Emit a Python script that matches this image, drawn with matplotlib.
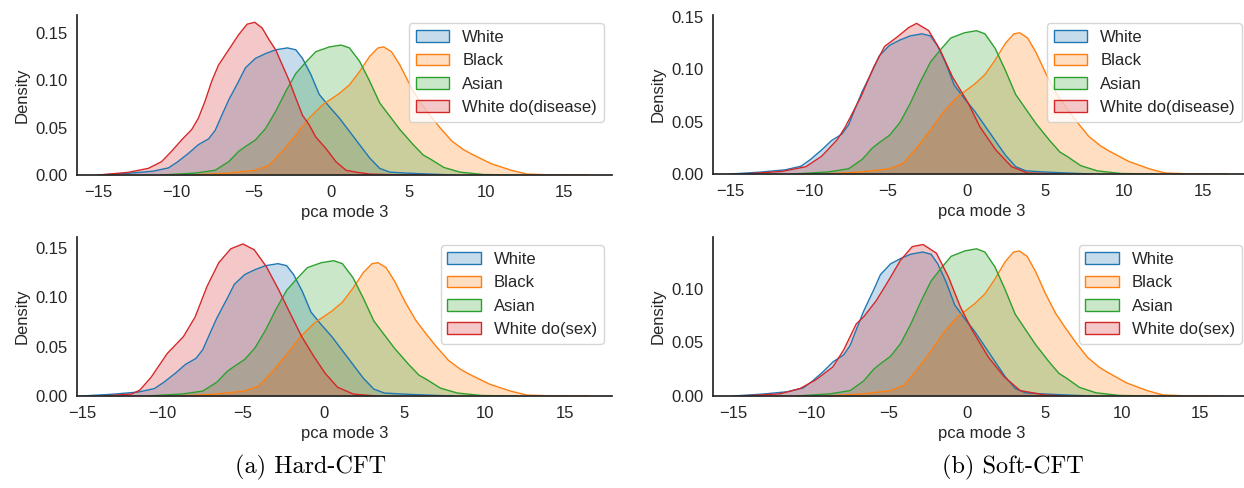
import matplotlib
matplotlib.use("Agg")
import matplotlib.pyplot as plt
from matplotlib.colors import to_rgba
from matplotlib.patches import Patch

# ---- data (x = pca mode 3, y = density) ----
white_x = [-15, -13.1, -11.5, -10.5, -9.9, -9.2, -8.57, -7.92, -7.49, -7.06, -6.62, -5.97, -5.54,
           -4.89, -4.24, -3.59, -2.83, -2.29, -1.86, -1.32, -0.78, -0.13, 0.52, 1.17, 1.82, 2.47,
           3.12, 3.77, 4.85, 6.3, 8.0]
white_y = [0, 0.0018, 0.004, 0.0075, 0.014, 0.023, 0.032, 0.038, 0.047, 0.063, 0.079, 0.099, 0.113,
           0.123, 0.128, 0.132, 0.134, 0.132, 0.123, 0.106, 0.085, 0.072, 0.060, 0.046, 0.032, 0.018,
           0.007, 0.003, 0.002, 0.001, 0]

black_x = [-9, -6.62, -4.89, -4.03, -3.16, -2.29, -1.43, -0.56, 0.52, 1.17, 1.82, 2.47, 3.01, 3.38,
           3.88, 4.42, 5.07, 5.71, 6.36, 7.0, 7.76, 8.5, 9.05, 10.3, 11.6, 12.6, 14, 16.5]
black_y = [0, 0.002, 0.005, 0.010, 0.025, 0.042, 0.060, 0.074, 0.086, 0.095, 0.109, 0.125, 0.134, 0.135,
           0.130, 0.116, 0.095, 0.077, 0.063, 0.050, 0.036, 0.027, 0.022, 0.012, 0.005, 0.001, 0.0002, 0]

asian_x = [-11, -8.78, -7.49, -6.62, -5.97, -5.54, -4.89, -4.24, -3.59, -2.94, -2.29, -1.64, -1.0,
           -0.13, 0.63, 1.17, 1.82, 2.47, 3.12, 3.77, 4.42, 5.28, 5.93, 6.37, 7.25, 8.3, 9.8, 12]
asian_y = [0, 0.002, 0.005, 0.014, 0.025, 0.030, 0.037, 0.049, 0.067, 0.088, 0.107, 0.119, 0.130,
           0.135, 0.137, 0.134, 0.120, 0.099, 0.076, 0.062, 0.048, 0.032, 0.021, 0.017, 0.008, 0.003, 0.0005, 0]

# counterfactual "White do(...)" curves, one per panel
hard_disease_x = [-15, -13.1, -11.8, -10.95, -10.3, -9.65, -9.0, -8.57, -8.14, -7.71, -7.27, -6.62,
                  -5.97, -5.43, -4.94, -4.46, -4.03, -3.59, -3.16, -2.73, -2.29, -1.86, -1.43, -1.0,
                  -0.35, 0.30, 0.95, 1.6, 2.47, 4, 6]
hard_disease_y = [0, 0.0028, 0.007, 0.014, 0.025, 0.037, 0.048, 0.060, 0.078, 0.099, 0.116, 0.132,
                  0.148, 0.159, 0.161, 0.155, 0.143, 0.132, 0.116, 0.100, 0.081, 0.063, 0.053, 0.040,
                  0.028, 0.014, 0.005, 0.003, 0.001, 0.0003, 0]

soft_disease_x = [-14.2, -11.7, -10.2, -9.2, -8.2, -7.7, -6.7, -5.9, -5.2, -4.4, -3.67, -3.17, -2.4,
                  -1.66, -0.9, 0.1, 0.85, 1.86, 2.86, 3.87, 6]
soft_disease_y = [0, 0.0025, 0.007, 0.017, 0.033, 0.045, 0.074, 0.102, 0.122, 0.131, 0.140, 0.144, 0.137,
                  0.118, 0.093, 0.068, 0.045, 0.023, 0.007, 0.001, 0]

hard_sex_x = [-13.7, -11.9, -11.4, -10.7, -9.7, -8.7, -7.97, -7.23, -6.5, -5.76, -5.0, -4.3, -3.55,
              -2.8, -2.08, -1.35, -0.6, 0.1, 0.86, 1.84, 3.3]
hard_sex_y = [0, 0.002, 0.006, 0.019, 0.043, 0.060, 0.080, 0.111, 0.135, 0.149, 0.154, 0.148, 0.131,
              0.108, 0.084, 0.060, 0.040, 0.023, 0.009, 0.002, 0]

soft_sex_x = [-14.5, -12, -10.7, -9.7, -8.6, -7.9, -7.1, -6.6, -5.8, -5.0, -4.27, -3.5, -2.8,
              -1.95, -1.18, -0.41, 0.36, 1.4, 2.4, 3.44, 5.0, 6.5]
soft_sex_y = [0, 0.002, 0.007, 0.015, 0.027, 0.043, 0.067, 0.074, 0.089, 0.108, 0.126, 0.139, 0.141,
              0.133, 0.111, 0.083, 0.061, 0.036, 0.018, 0.005, 0.001, 0]

labels_base = ["White", "Black", "Asian"]
colors = ["#1f77b4", "#ff7f0e", "#2ca02c", "#d62728"]

plt.rcParams.update({
    "font.family": ["Liberation Sans", "DejaVu Sans"],
    "font.size": 12,
    "text.color": ".15",
    "axes.labelcolor": ".15",
    "xtick.color": ".15",
    "ytick.color": ".15",
    "axes.edgecolor": ".15",
    "axes.linewidth": 1.25,
})

W, H = 1244, 488
fig = plt.figure(figsize=(W / 100, H / 100), dpi=100)


def px_axes(left, top, right, bottom):
    return fig.add_axes([left / W, 1 - bottom / H, (right - left) / W, (bottom - top) / H])


panels = [
    # (pixel box, red curve, red label, xlim, ylim top)
    ((77, 15, 612, 175), hard_disease_x, hard_disease_y, "White do(disease)", (-16.4, 18.1), 0.1687),
    ((713, 15, 1250, 174), soft_disease_x, soft_disease_y, "White do(disease)", (-16.1, 18.0), 0.152),
    ((77, 237, 612, 396), hard_sex_x, hard_sex_y, "White do(sex)", (-15.3, 17.9), 0.161),
    ((713, 237, 1250, 396), soft_sex_x, soft_sex_y, "White do(sex)", (-16.3, 18.2), 0.148),
]

for box, rx, ry, rlabel, xlim, ytop in panels:
    ax = px_axes(*box)
    series = [(white_x, white_y), (black_x, black_y), (asian_x, asian_y), (rx, ry)]
    labels = labels_base + [rlabel]
    handles = []
    for (xs, ys), c, lab in zip(series, colors, labels):
        ax.fill_between(xs, ys, 0, color=c, alpha=0.25, linewidth=0)
        ax.plot(xs, ys, color=c, linewidth=1.0, solid_joinstyle="round")
        handles.append(Patch(facecolor=to_rgba(c, 0.25), edgecolor=c, linewidth=1.0, label=lab))
    ax.set_xlim(*xlim)
    ax.set_ylim(0, ytop)
    ax.set_xticks([-15, -10, -5, 0, 5, 10, 15])
    ax.set_xlabel("pca mode 3")
    ax.set_ylabel("Density")
    ax.spines["top"].set_visible(False)
    ax.spines["right"].set_visible(False)
    ax.tick_params(bottom=False, left=False)
    leg = ax.legend(handles=handles, loc="upper right", fontsize=12, frameon=True)
    leg.get_frame().set_edgecolor("0.8")

fig.text(311 / W, 1 - 467 / H, "(a) Hard-CFT", family="cmr10", fontsize=17.5,
         ha="center", va="center", color="black")
fig.text(1013 / W, 1 - 467 / H, "(b) Soft-CFT", family="cmr10", fontsize=17.5,
         ha="center", va="center", color="black")

fig.savefig("out.png", dpi=100)
